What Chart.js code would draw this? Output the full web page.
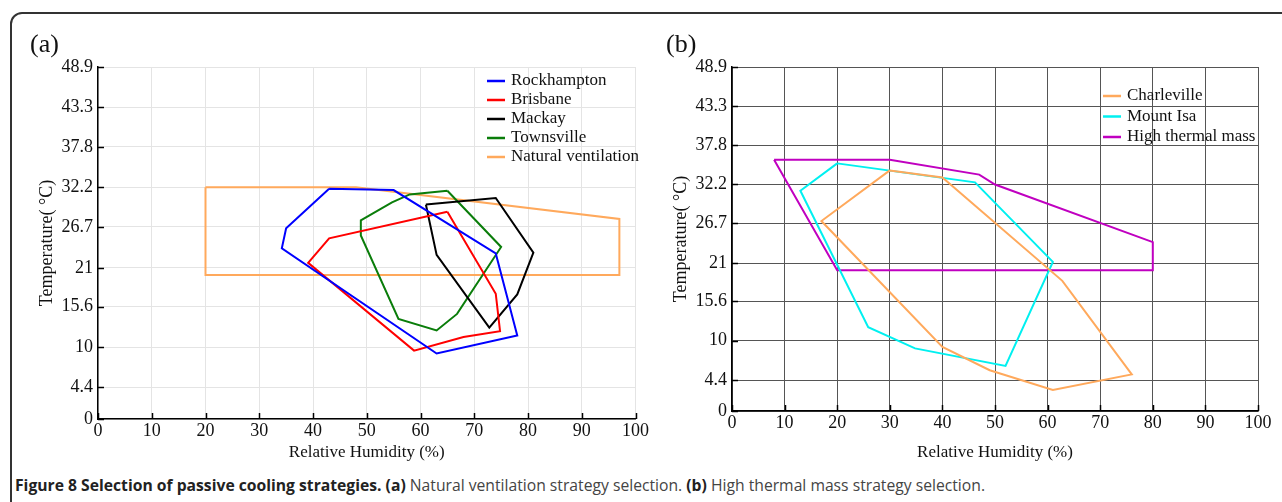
<!DOCTYPE html>
<html>
<head>
<meta charset="utf-8">
<script src="https://cdn.jsdelivr.net/npm/chart.js@4.4.1/dist/chart.umd.min.js"></script>
<style>
  html, body { margin: 0; padding: 0; background: #fff; }
  body { width: 1282px; height: 502px; position: relative; overflow: hidden; }
  .frame { position: absolute; left: 10px; top: 12px; width: 1300px; height: 500px;
           border: 2px solid #333; border-radius: 12px; }
  canvas { position: absolute; top: 0; }
  #chartA { left: 0; }
  #chartB { left: 650px; }
  .panel { position: absolute; font-family: 'Liberation Serif', serif; font-size: 26px; color: #111; }
  .caption { position: absolute; left: 15px; top: 474px; font-family: 'Open Sans', sans-serif;
             font-size: 15.7px; color: #444; white-space: nowrap; }
  .caption b { color: #222; }
</style>
</head>
<body>
<div class="frame"></div>
<canvas id="chartA" width="650" height="470"></canvas>
<canvas id="chartB" width="632" height="470"></canvas>
<div class="panel" style="left:30px; top:29px;">(a)</div>
<div class="panel" style="left:666px; top:29px;">(b)</div>
<div class="caption"><b>Figure 8 Selection of passive cooling strategies. (a)</b> Natural ventilation strategy selection. <b>(b)</b> High thermal mass strategy selection.</div>
<script>
// tick values (°C) shown on both temperature axes
const yTickValues = [0, 4.4, 10, 15.6, 21, 26.7, 32.2, 37.8, 43.3, 48.9];

// panel (a) polygons: [relative humidity %, temperature °C]
const rockhampton = [[43, 32], [55, 31.8], [74, 23], [78, 11.6], [63, 9.1], [34.2, 23.7], [35, 26.5], [43, 32]];
const brisbane = [[65, 28.8], [74, 17.4], [74.8, 12.2], [68, 11.4], [58.8, 9.5], [39.1, 21.7], [43, 25.1], [65, 28.8]];
const mackay = [[61, 29.8], [74, 30.7], [81, 23.1], [78, 17.3], [72.8, 12.7], [63, 22.8], [61, 29.8]];
const townsville = [[65, 31.7], [75, 23.9], [66.8, 14.6], [63, 12.3], [55.9, 13.9], [48.9, 25.5], [48.9, 27.6], [54.7, 30.1], [58, 31.2], [65, 31.7]];
const naturalVentilation = [[20, 32.2], [48, 32.2], [97, 27.8], [97, 20], [20, 20], [20, 32.2]];

// panel (b) polygons
const charleville = [[30, 34.2], [40, 33.2], [62.8, 18.5], [76, 5.2], [61, 3], [49, 5.8], [40, 9.1], [17, 27], [30, 34.2]];
const mountIsa = [[20, 35.2], [46.2, 32.5], [61, 21.2], [52, 6.4], [34.8, 8.9], [25.9, 11.9], [13, 31.3], [20, 35.2]];
const highThermalMass = [[8, 35.7], [30, 35.7], [47, 33.6], [50, 32.2], [80, 24], [80, 20], [20, 20], [8, 35.7]];

Chart.defaults.font.family = "'Liberation Serif', serif";
Chart.defaults.color = '#111';

function toPoints(arr) {
    return arr.map(p => ({ x: p[0], y: p[1] }));
}

function series(label, arr, color) {
    return {
        label: label,
        data: toPoints(arr),
        borderColor: color,
        backgroundColor: color,
        borderWidth: 2,
        showLine: true,
        pointRadius: 0,
        tension: 0,
        fill: false
    };
}

// inward tick marks + legend drawn inside the plot area
const innerBits = {
    id: 'innerBits',
    afterDatasetsDraw(chart, args, opts) {
        const ctx = chart.ctx;
        const xs = chart.scales.x, ys = chart.scales.y;
        const area = chart.chartArea;
        ctx.save();
        ctx.strokeStyle = '#000';
        ctx.lineWidth = 1.5;
        xs.ticks.forEach(t => {
            const px = Math.round(xs.getPixelForValue(t.value)) + 0.5;
            ctx.beginPath();
            ctx.moveTo(px, area.bottom);
            ctx.lineTo(px, area.bottom - 6);
            ctx.stroke();
        });
        ys.ticks.forEach(t => {
            const py = Math.round(ys.getPixelForValue(t.value)) + 0.5;
            ctx.beginPath();
            ctx.moveTo(area.left, py);
            ctx.lineTo(area.left + 6, py);
            ctx.stroke();
        });
        // legend
        ctx.font = "17px 'Liberation Serif', serif";
        ctx.textBaseline = 'middle';
        ctx.fillStyle = '#111';
        chart.data.datasets.forEach((ds, i) => {
            const y = opts.top + i * opts.rowGap;
            ctx.strokeStyle = ds.borderColor;
            ctx.lineWidth = 2.5;
            ctx.beginPath();
            ctx.moveTo(opts.left, y);
            ctx.lineTo(opts.left + 18, y);
            ctx.stroke();
            ctx.fillText(ds.label, opts.left + 24, y);
        });
        ctx.restore();
    }
};

function makeScales(gridColor, yWidth, xHeight) {
    return {
        x: {
            type: 'linear', min: 0, max: 100,
            ticks: { stepSize: 10, font: { size: 18 }, padding: 1, color: '#111' },
            grid: { color: gridColor, drawTicks: false },
            border: { color: '#000', width: 1.5 },
            title: { display: true, text: 'Relative Humidity (%)', font: { size: 17 }, color: '#111', padding: { top: 0, bottom: 7 } },
            afterFit: s => { s.height = xHeight; }
        },
        y: {
            type: 'linear', min: 0, max: 48.9,
            afterBuildTicks: s => { s.ticks = yTickValues.map(v => ({ value: v })); },
            ticks: { font: { size: 18 }, padding: 5, color: '#111', callback: v => String(v) },
            grid: { color: gridColor, drawTicks: false },
            border: { color: '#000', width: 1.5 },
            title: { display: true, text: 'Temperature( °C)', font: { size: 18 }, color: '#111', padding: { top: 0, bottom: 2 } },
            afterFit: s => { s.width = yWidth; }
        }
    };
}

new Chart(document.getElementById('chartA'), {
    type: 'scatter',
    data: {
        datasets: [
            series('Rockhampton', rockhampton, '#0000ff'),
            series('Brisbane', brisbane, '#ff0000'),
            series('Mackay', mackay, '#000000'),
            series('Townsville', townsville, '#0a7d0a'),
            series('Natural ventilation', naturalVentilation, '#ffa95c')
        ]
    },
    options: {
        responsive: false,
        animation: false,
        devicePixelRatio: 1,
        layout: { padding: { left: 36, right: 12, top: 67, bottom: 0 } },
        plugins: {
            legend: { display: false },
            tooltip: { enabled: false },
            innerBits: { left: 487, top: 81, rowGap: 19 }
        },
        scales: makeScales('#e4e4e4', 62, 51)
    },
    plugins: [innerBits]
});

new Chart(document.getElementById('chartB'), {
    type: 'scatter',
    data: {
        datasets: [
            series('Charleville', charleville, '#ffa95c'),
            series('Mount Isa', mountIsa, '#00f0f0'),
            series('High thermal mass', highThermalMass, '#c000c0')
        ]
    },
    options: {
        responsive: false,
        animation: false,
        devicePixelRatio: 1,
        layout: { padding: { left: 20, right: 24, top: 67, bottom: 0 } },
        plugins: {
            legend: { display: false },
            tooltip: { enabled: false },
            innerBits: { left: 453, top: 96, rowGap: 20.5 }
        },
        scales: makeScales('#555555', 62, 59)
    },
    plugins: [innerBits]
});
</script>
</body>
</html>
